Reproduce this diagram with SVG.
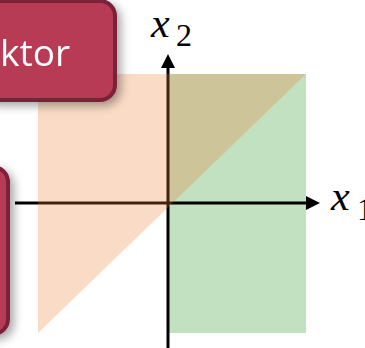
<svg xmlns="http://www.w3.org/2000/svg" width="365" height="348" viewBox="0 0 365 348">
<defs>
<style>
.box{fill:#B83A55;stroke:#7B2038;stroke-width:4}
.axis{stroke:#000;stroke-width:3;fill:none}
.lbl{font-family:"Open Sans","Liberation Sans",sans-serif;fill:#fff}
.mx{font-family:"Liberation Serif","DejaVu Serif",serif;font-style:italic;fill:#000}
.mn{font-family:"Liberation Serif","DejaVu Serif",serif;fill:#000}
</style>
<marker id="arr" viewBox="0 0 14 14" refX="0" refY="7" markerWidth="14" markerHeight="14" markerUnits="userSpaceOnUse" orient="auto">
<path d="M0,0 L14,7 L0,14 Z" fill="#000"/>
</marker>
<filter id="sh" x="-30%" y="-30%" width="160%" height="160%">
<feDropShadow dx="4" dy="4" stdDeviation="5" flood-color="#000" flood-opacity="0.35"/>
</filter>
</defs>
<g id="region-green">
<rect x="168" y="74" width="138" height="259" fill="#64B464" fill-opacity="0.4"/>
</g>
<g id="connectors">
<line class="axis" x1="15" y1="203" x2="306" y2="203" marker-end="url(#arr)"/>
<line class="axis" x1="168" y1="348" x2="168" y2="68" marker-end="url(#arr)"/>
</g>
<g id="region-orange">
<polygon points="38,74 306,74 38,333" fill="#ED7D31" fill-opacity="0.28"/>
</g>
<g id="box1" filter="url(#sh)">
<rect class="box" x="-20" y="1" width="135" height="99" rx="15"/>
<text class="lbl" x="0" y="66" font-size="37">ktor</text>
</g>
<g id="box2" filter="url(#sh)">
<rect class="box" x="-40" y="167" width="48" height="167" rx="15"/>
</g>
<g id="label-x2">
<text class="mx" x="151" y="37" font-size="42">x</text>
<text class="mn" x="176" y="46" font-size="32">2</text>
</g>
<g id="label-x1">
<text class="mx" x="331" y="210" font-size="42">x</text>
<text class="mn" x="357" y="220" font-size="32">1</text>
</g>
</svg>
